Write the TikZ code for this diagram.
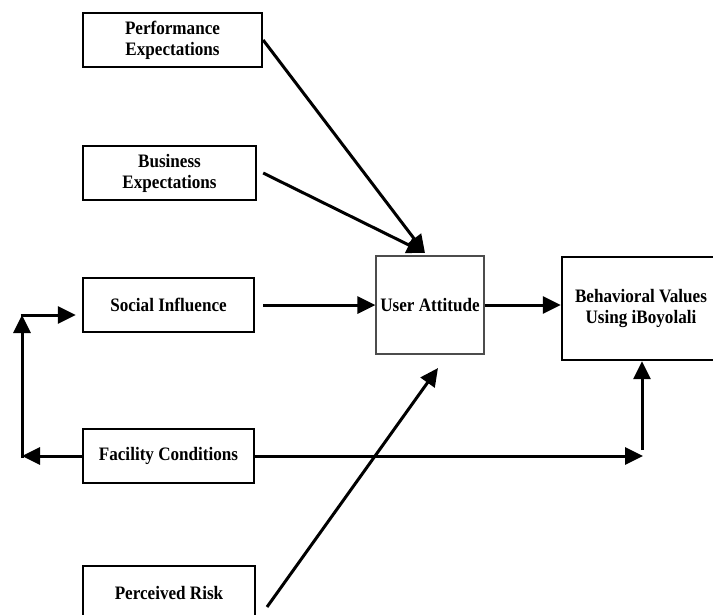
\documentclass[tikz,border=0pt]{standalone}
\usepackage{fontspec}
\setmainfont{Liberation Serif}[FakeStretch=0.9]
\usetikzlibrary{arrows.meta,shadows}
\begin{document}
\begin{tikzpicture}[x=1pt,y=-1pt,
  lbl/.style={font=\fontsize{19}{21}\selectfont\bfseries, align=center, inner sep=0pt},
  box/.style={lbl, draw=black, line width=2.3pt, fill=white,
    drop shadow={shadow xshift=1.2pt, shadow yshift=-1.2pt, fill=gray!45}},
  thinbox/.style={lbl, draw=gray!60!black, line width=1.2pt, fill=white},
  conn/.style={line width=3pt, -{Triangle[length=18pt,width=17pt]}}]
\useasboundingbox (0,0) rectangle (713,614);
\clip (0,0) rectangle (713,614);
% nodes
\node[box, minimum width=179pt, minimum height=54pt] (pe) at (172.5,40) {Performance\\Expectations};
\node[box, minimum width=173pt, minimum height=54pt] (be) at (169.5,173) {Business\\Expectations};
\node[box, minimum width=171pt, minimum height=54pt] (si) at (168.5,305) {Social Influence};
\node[box, minimum width=171pt, minimum height=54pt] (fc) at (168.5,456) {Facility Conditions};
\node[box, minimum width=172pt, minimum height=54pt] (pr) at (169,593) {Perceived Risk};
\node[thinbox, minimum width=108pt, minimum height=98pt] (ua) at (430,305) {User Attitude};
\node[box, minimum width=158pt, minimum height=103pt] (bv) at (641,308.5) {Behavioral Values\\Using iBoyolali};
% coordinates
\coordinate (ta) at (425,253);
\coordinate (tb) at (438,368);
\coordinate (prs) at (267,607);
\coordinate (fr) at (643,456);
\coordinate (frv) at (642,450);
\coordinate (fl) at (22,456);
\coordinate (flt) at (22,315);
% connectors
\draw[conn] (pe.east) -- (ta);
\draw[conn] ([xshift=6pt]be.east) -- (ta);
\draw[conn] ([xshift=8pt]si.east) -- (ua.west);
\draw[conn] (ua.east) -- (ua.east -| bv.west);
\draw[conn] (fc.east) -- (fr);
\draw[conn] (frv) -- (frv |- bv.south);
\draw[conn] (fc.west) -- (fl);
\draw[conn, shorten <=-1.5pt] (fl) -- (flt);
\draw[conn, shorten >=6pt, shorten <=-1.5pt] (flt) -- (flt -| si.west);
\draw[conn] (prs) -- (tb);
\end{tikzpicture}
\end{document}
